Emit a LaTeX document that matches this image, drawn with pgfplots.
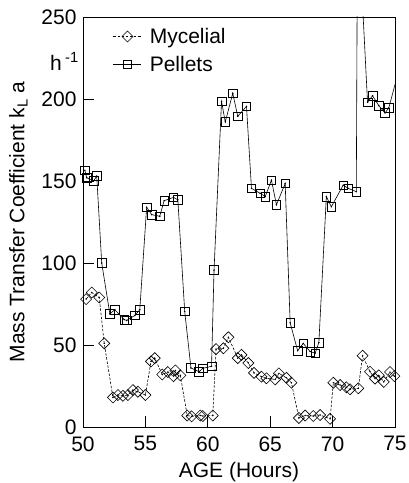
\documentclass[border=0pt]{standalone}
\usepackage{fontspec}
\setmainfont{Liberation Sans}
\usepackage{pgfplots}
\pgfplotsset{compat=1.18}
\pgfplotstableread{
h v
50.25 78
50.7 82
51.3 79
51.7 51
52.4 18
52.8 19.5
53.2 19
53.6 19.5
54.0 22.5
54.4 21.5
55.0 19.5
55.45 40
55.75 42
56.35 32
56.8 33.5
57.25 31
57.4 34.5
57.8 31.5
58.35 7
58.7 6.5
59.4 7
59.6 6.7
60.4 7
60.66 47.5
61.25 48
61.65 54.7
62.4 42
62.7 44
63.25 39
63.7 33
64.3 30.7
64.7 29.7
65.4 29
65.7 32.7
66.3 30
66.7 27
67.3 5.5
67.8 7
68.45 6.7
69.0 7.3
69.8 5
70.06 27
70.6 25.6
71.1 24.2
71.4 23
72.06 23.6
72.4 43.5
73.0 33.7
73.4 29.5
73.7 31.5
74.1 27.5
74.6 33.5
74.95 31
}\myc
\pgfplotstableread{
h v
50.15 156.5
50.3 152
50.85 150
51.1 153
51.5 100
52.15 69
52.55 71.5
53.3 65.5
53.5 65
54.15 68
54.55 71.5
55.1 134
55.5 129.5
56.15 128.5
56.5 138
57.25 140
57.6 138.5
58.15 70.5
58.65 36
59.3 33.7
59.6 35.8
60.3 37
60.5 95.7
61.1 198.5
61.4 186
62.0 203.5
62.4 189.5
63.1 195.5
63.5 145.5
64.2 142.5
64.6 140.5
65.1 150.5
65.5 135.5
66.2 148.5
66.6 63.5
67.2 46.5
67.65 51
68.2 46
68.6 45
68.9 51.5
69.5 140.5
69.9 134.3
70.85 147.5
71.25 145.5
71.9 143.5
72.0 317
72.8 198
73.2 202
73.7 196
74.2 191.5
74.5 194.5
75.5 223
}\pel
\begin{document}
\begin{tikzpicture}
\begin{axis}[
  scale only axis, width=312pt, height=410pt,
  xmin=50, xmax=75, ymin=0, ymax=250,
  xtick={50,55,...,75}, ytick={0,50,...,250},
  tick pos=left, tick align=inside, major tick length=11pt,
  tick style={black, line width=0.6pt},
  axis line style={line width=0.6pt},
  font=\fontsize{21}{25}\selectfont,
  /pgf/number format/assume math mode=true,
  xticklabel style={yshift=-6pt},
  yticklabel style={xshift=-3pt},
  xlabel={AGE (Hours)},
  xlabel style={yshift=-4pt},
  ylabel={Mass Transfer Coefficient k\textsubscript{L} a},
  ylabel style={yshift=7pt},
  legend style={draw=none, fill=none, at={(rel axis cs:0,1)}, anchor=north west,
    xshift=27pt, yshift=-7pt, row sep=7pt,
    font=\fontsize{21}{25}\selectfont},
  legend cell align=left,
  legend image code/.code={\draw[mark repeat=2,mark phase=2,#1] plot coordinates {(0pt,0pt) (14pt,0pt) (28pt,0pt)}; \path (34pt,0pt);},
  after end axis/.code={\node[anchor=east, inner sep=0pt, font=\fontsize{21}{25}\selectfont] at (axis cs:50,223) [xshift=-4pt] {h\,\textsuperscript{-1}};},
]
\addplot[black, line width=0.6pt, dash pattern=on 2.5pt off 1.6pt, mark=square, mark size=3.9pt,
  mark options={solid, rotate=45, fill=white, line width=0.6pt}] table[x=h,y=v] {\myc};
\addlegendentry{Mycelial}
\addplot[black, line width=0.6pt, mark=square, mark size=4.3pt,
  mark options={solid, fill=white, line width=0.6pt}] table[x=h,y=v] {\pel};
\addlegendentry{Pellets}
\addplot[forget plot, only marks, mark=*, mark size=0.5pt, black] table[x=h,y=v] {\myc};
\addplot[forget plot, only marks, mark=*, mark size=0.5pt, black] table[x=h,y=v] {\pel};
\end{axis}
\pgfresetboundingbox
\path (-83pt,-56pt) rectangle (325pt,427pt);
\end{tikzpicture}
\end{document}
